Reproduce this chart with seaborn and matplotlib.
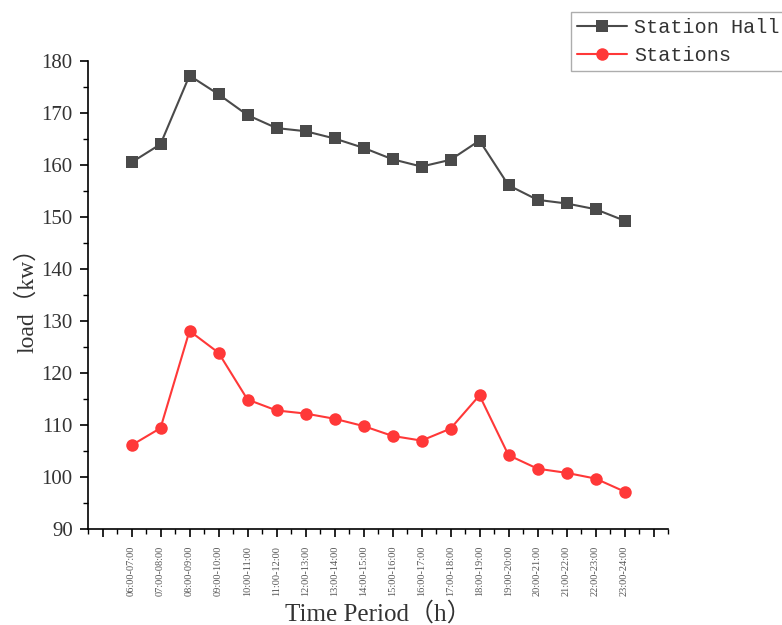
import matplotlib
matplotlib.use("Agg")
import matplotlib.pyplot as plt
import seaborn as sns
import pandas as pd
from matplotlib.ticker import MultipleLocator, FixedLocator

periods = ["06:00-07:00", "07:00-08:00", "08:00-09:00", "09:00-10:00",
           "10:00-11:00", "11:00-12:00", "12:00-13:00", "13:00-14:00",
           "14:00-15:00", "15:00-16:00", "16:00-17:00", "17:00-18:00",
           "18:00-19:00", "19:00-20:00", "20:00-21:00", "21:00-22:00",
           "22:00-23:00", "23:00-24:00"]
station_hall = [160.5, 164.0, 177.2, 173.6, 169.6, 167.1, 166.5, 165.1, 163.3,
                161.1, 159.7, 161.0, 164.7, 156.1, 153.3, 152.6, 151.5, 149.3]
stations = [106.1, 109.4, 128.1, 123.9, 114.9, 112.8, 112.2, 111.2, 109.8,
            107.9, 107.0, 109.3, 115.7, 104.2, 101.6, 100.8, 99.7, 97.2]
y_ticks = [90, 100, 110, 120, 130, 140, 150, 160, 170, 180]

sns.set_theme(style="ticks")
plt.rcParams["font.family"] = ["Liberation Serif", "DejaVu Serif"]
text_color = "#333333"
label_family = ["Liberation Serif", "Noto Sans CJK SC"]

df = pd.DataFrame({
    "idx": list(range(len(periods))) * 2,
    "load": station_hall + stations,
    "series": ["Station Hall"] * len(periods) + ["Stations"] * len(periods),
})

fig = plt.figure(figsize=(7.82, 6.25), dpi=100)
ax = fig.add_axes([88 / 782, 1 - 529 / 625, 580 / 782, 468 / 625])

palette = {"Station Hall": "#4a4a4a", "Stations": "#ff3838"}
sns.lineplot(data=df, x="idx", y="load", hue="series", style="series",
             markers={"Station Hall": "s", "Stations": "o"}, dashes=False,
             palette=palette, markersize=9, markeredgewidth=0, linewidth=1.5,
             ax=ax, legend=False)

ax.set_xlim(-1.5, 18.5)
ax.set_ylim(90, 180)
ax.xaxis.set_major_locator(FixedLocator(list(range(-1, 19))))
ax.set_xticklabels([""] + periods + [""], rotation=90, fontsize=7.5, color="#555555")
ax.xaxis.set_minor_locator(FixedLocator([i + 0.5 for i in range(-2, 19)]))
ax.set_yticks(y_ticks)
ax.set_yticklabels([str(v) for v in y_ticks], fontsize=15, color=text_color)
ax.yaxis.set_minor_locator(MultipleLocator(5))

ax.tick_params(which="major", direction="out", length=6, width=1.2, color="black")
ax.tick_params(which="minor", direction="out", length=3.5, width=1.0, color="black")
ax.tick_params(axis="x", which="major", pad=6)
ax.tick_params(axis="y", which="major", pad=5)

for side in ["top", "right"]:
    ax.spines[side].set_visible(False)
for side in ["left", "bottom"]:
    ax.spines[side].set_linewidth(1.2)
    ax.spines[side].set_color("black")

ax.set_xlabel("Time Period\uff08h\uff09", fontsize=18, color=text_color,
              family=label_family, labelpad=4)
ax.set_ylabel("load\uff08kw\uff09", fontsize=17, color=text_color,
              family=label_family, labelpad=2)

handles = [
    plt.Line2D([], [], color=palette["Station Hall"], marker="s", markersize=9,
               markeredgewidth=0, linewidth=1.5),
    plt.Line2D([], [], color=palette["Stations"], marker="o", markersize=9,
               markeredgewidth=0, linewidth=1.5),
]
leg = fig.legend(handles, ["Station Hall", "Stations"], loc="upper left",
                 bbox_to_anchor=(571 / 782, 1 - 12 / 625), frameon=True,
                 fancybox=False, edgecolor="#999999",
                 handlelength=2.5, handletextpad=0.35, borderpad=0.3,
                 labelspacing=0.45, borderaxespad=0,
                 prop={"family": "Liberation Mono", "size": 14.5})
for t in leg.get_texts():
    t.set_color(text_color)
leg.get_frame().set_linewidth(1.0)

fig.savefig("out.png", dpi=100)
